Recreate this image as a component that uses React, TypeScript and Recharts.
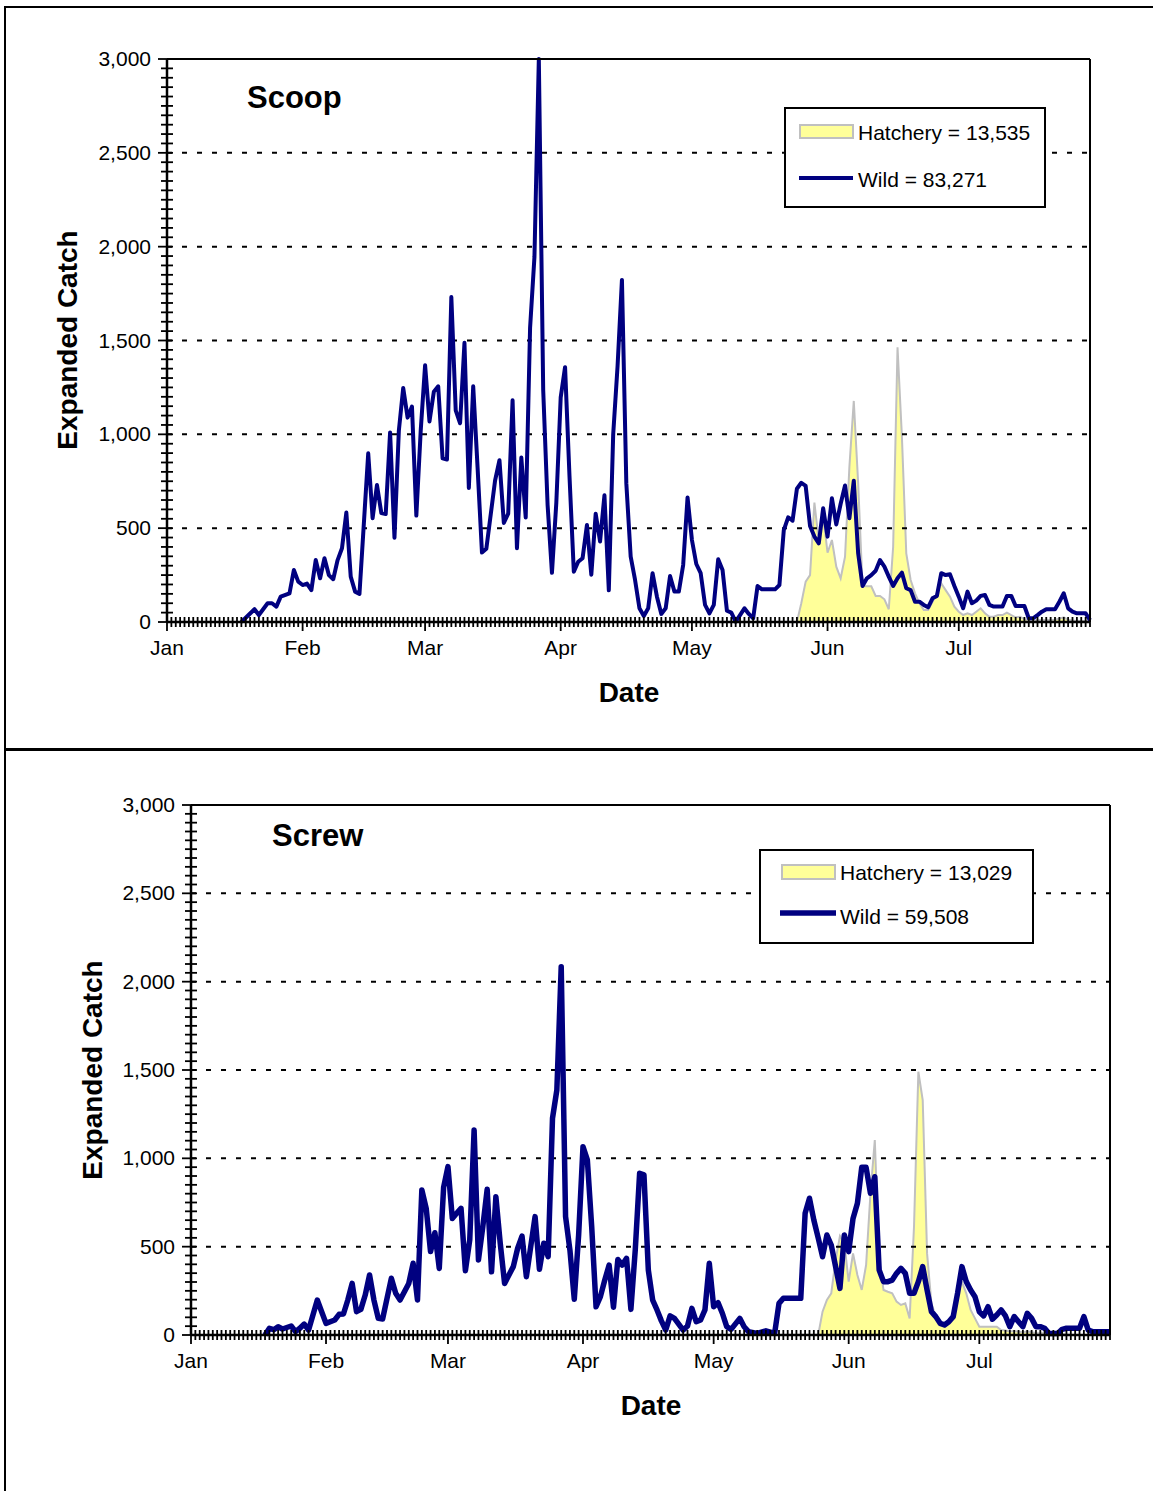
import React from "react";
import { ComposedChart, Line, Area, XAxis, YAxis, ReferenceLine } from "recharts";

const FONT = "'Liberation Sans', Arial, sans-serif";

// axis setup (day 0 = Jan 1)
const monthStarts = [0, 31, 59, 90, 120, 151, 181];
const monthLabels = ["Jan", "Feb", "Mar", "Apr", "May", "Jun", "Jul"];
const gridValues = [500, 1000, 1500, 2000, 2500];
const dayTicks = Array.from({ length: 212 }, (_, i) => i);
const yMinorTicks = Array.from({ length: 61 }, (_, i) => i * 50);

// Scoop trap, [day, expanded catch]
const scoopWild: [number, number][] = [
  [17, 0], [20, 68], [21, 37], [23, 100], [24, 100], [25, 82], [26, 135], [28, 153], [29, 277], [30, 215],
  [31, 197], [32, 205], [33, 170], [34, 330], [35, 233], [36, 340], [37, 250], [38, 228], [39, 330], [40, 393],
  [41, 583], [42, 242], [43, 162], [44, 150], [46, 899], [47, 553], [48, 730], [49, 580], [50, 575], [51, 1010],
  [52, 449], [53, 1020], [54, 1247], [55, 1089], [56, 1148], [57, 567], [58, 1020], [59, 1368], [60, 1069], [61, 1227],
  [62, 1256], [63, 872], [64, 866], [65, 1732], [66, 1128], [67, 1059], [68, 1488], [69, 714], [70, 1256], [71, 823],
  [72, 370], [73, 390], [75, 754], [76, 862], [77, 528], [78, 577], [79, 1181], [80, 393], [81, 876], [82, 557],
  [83, 1567], [84, 1945], [85, 3000], [86, 1236], [87, 626], [88, 262], [89, 636], [90, 1197], [91, 1358], [92, 783],
  [93, 268], [94, 321], [95, 340], [96, 517], [97, 252], [98, 577], [99, 429], [100, 675], [101, 169], [102, 1000],
  [103, 1364], [104, 1823], [105, 740], [106, 348], [107, 224], [108, 73], [109, 32], [110, 73], [111, 260], [112, 135],
  [113, 43], [114, 73], [115, 245], [116, 162], [117, 162], [118, 304], [119, 664], [120, 437], [121, 309], [122, 260],
  [123, 91], [124, 46], [125, 91], [126, 334], [127, 277], [128, 60], [129, 50], [130, 2], [131, 37], [132, 73],
  [133, 43], [134, 20], [135, 192], [136, 174], [137, 174], [138, 174], [139, 174], [140, 197], [141, 490], [142, 558],
  [143, 540], [144, 710], [145, 742], [146, 725], [147, 512], [148, 455], [149, 419], [150, 606], [151, 455], [152, 659],
  [153, 520], [154, 630], [155, 727], [156, 553], [157, 753], [158, 366], [159, 192], [160, 233], [161, 250], [162, 273],
  [163, 330], [164, 295], [165, 242], [166, 192], [167, 233], [168, 263], [169, 180], [170, 170], [171, 108], [172, 108],
  [173, 91], [174, 78], [175, 126], [176, 139], [177, 260], [178, 250], [179, 254], [180, 192], [181, 135], [182, 73],
  [183, 162], [184, 100], [185, 114], [186, 139], [187, 144], [188, 91], [189, 82], [190, 82], [191, 82], [192, 139],
  [193, 139], [194, 85], [195, 85], [196, 85], [197, 20], [198, 20], [199, 37], [200, 55], [201, 68], [202, 68],
  [203, 68], [204, 108], [205, 153], [206, 73], [207, 55], [208, 46], [209, 46], [210, 46], [211, 10],
];

const scoopHatchery: [number, number][] = [
  [144, 0], [145, 100], [146, 215], [147, 250], [148, 636], [149, 430], [150, 570], [151, 369], [152, 437], [153, 295],
  [154, 233], [155, 348], [156, 828], [157, 1178], [158, 739], [159, 192], [160, 190], [161, 190], [162, 139], [163, 139],
  [164, 121], [165, 68], [166, 401], [167, 1464], [168, 988], [169, 366], [170, 224], [171, 153], [172, 100], [173, 64],
  [174, 64], [175, 108], [176, 153], [177, 206], [178, 170], [179, 135], [180, 82], [181, 55], [182, 37], [183, 46],
  [184, 37], [185, 55], [186, 73], [187, 46], [188, 28], [189, 28], [190, 37], [191, 37], [192, 50], [193, 37],
  [194, 25], [195, 28], [196, 15], [197, 10], [198, 8], [199, 10], [200, 12], [201, 10], [202, 10], [203, 12],
  [204, 18], [205, 25], [206, 12], [207, 8], [208, 6], [209, 5], [210, 5], [211, 3],
];

// Screw trap
const screwWild: [number, number][] = [
  [17, 0], [18, 38], [19, 30], [20, 47], [21, 34], [23, 51], [24, 19], [25, 38], [26, 62], [27, 28],
  [29, 198], [30, 132], [31, 66], [33, 85], [34, 117], [35, 119], [36, 198], [37, 292], [38, 132], [39, 145],
  [40, 226], [41, 340], [42, 198], [43, 94], [44, 91], [46, 321], [47, 236], [48, 198], [50, 292], [51, 406],
  [52, 198], [53, 821], [54, 717], [55, 472], [56, 579], [57, 377], [58, 836], [59, 953], [60, 660], [61, 689],
  [62, 717], [63, 364], [64, 538], [65, 1160], [66, 425], [67, 613], [68, 825], [69, 358], [70, 783], [71, 519],
  [72, 292], [73, 340], [74, 387], [75, 491], [76, 560], [77, 330], [78, 500], [79, 670], [80, 372], [81, 519],
  [82, 443], [83, 1227], [84, 1387], [85, 2085], [86, 670], [87, 481], [88, 202], [89, 566], [90, 1066], [91, 991],
  [92, 613], [93, 160], [94, 217], [95, 311], [96, 396], [97, 157], [98, 428], [99, 396], [100, 434], [101, 145],
  [102, 481], [103, 915], [104, 906], [105, 368], [106, 198], [107, 142], [108, 80], [109, 28], [110, 108], [111, 94],
  [113, 28], [114, 51], [115, 151], [116, 75], [117, 85], [118, 142], [119, 406], [120, 160], [121, 183], [122, 123],
  [123, 47], [124, 32], [126, 94], [127, 47], [128, 19], [130, 9], [132, 24], [134, 9], [135, 179], [136, 208],
  [137, 208], [138, 208], [139, 208], [140, 208], [141, 689], [142, 774], [143, 651], [144, 550], [145, 443], [146, 566],
  [147, 509], [148, 387], [149, 264], [150, 566], [151, 472], [152, 660], [153, 745], [154, 949], [155, 949], [156, 802],
  [157, 896], [158, 368], [159, 302], [160, 302], [161, 311], [162, 349], [163, 377], [164, 349], [165, 236], [166, 236],
  [167, 302], [168, 387], [169, 255], [170, 132], [171, 104], [172, 66], [173, 57], [174, 75], [175, 104], [176, 236],
  [177, 387], [178, 302], [179, 255], [180, 217], [181, 132], [182, 108], [183, 160], [184, 89], [185, 113], [186, 142],
  [187, 108], [188, 47], [189, 104], [190, 75], [191, 47], [192, 123], [193, 94], [194, 47], [195, 47], [196, 38],
  [197, 9], [198, 9], [199, 9], [200, 32], [201, 38], [202, 38], [203, 38], [204, 38], [205, 104], [206, 28],
  [207, 19], [208, 19], [209, 19], [210, 19], [211, 19],
];

const screwHatchery: [number, number][] = [
  [144, 0], [145, 132], [146, 198], [147, 236], [148, 425], [149, 560], [150, 520], [151, 302], [152, 462], [153, 340],
  [154, 255], [155, 396], [156, 800], [157, 1104], [158, 425], [159, 255], [160, 245], [161, 236], [162, 189], [163, 170],
  [164, 179], [165, 94], [166, 613], [167, 1490], [168, 1330], [169, 462], [170, 179], [171, 104], [172, 66], [173, 47],
  [174, 66], [175, 104], [176, 236], [177, 302], [178, 236], [179, 142], [180, 94], [181, 47], [182, 47], [183, 47],
  [184, 47], [185, 47], [186, 28], [187, 25], [188, 20], [189, 22], [190, 18], [191, 15], [192, 20], [193, 15],
  [194, 12], [195, 10], [196, 10], [197, 8], [198, 6], [199, 5], [200, 5], [201, 3], [202, 0],
];

function buildRows(wild: [number, number][], hatchery: [number, number][]) {
  const rows = new Map<number, any>();
  wild.forEach(([d, v]) => rows.set(d, { day: d, wild: v }));
  hatchery.forEach(([d, v]) => {
    const r = rows.get(d) || { day: d };
    r.hatchery = v;
    rows.set(d, r);
  });
  return [...rows.values()].sort((a, b) => a.day - b.day);
}

const XTick = (props: any) => {
  const { x, y, payload } = props;
  const idx = monthStarts.indexOf(payload.value);
  return (
    <g>
      <line x1={x} x2={x} y1={y - 5} y2={y + (idx >= 0 ? 9 : 5)} stroke="#000" strokeWidth={1.8} />
      {idx >= 0 && (
        <text x={x} y={y + 33} textAnchor="middle" fontSize={21} fontFamily={FONT} fill="#000">
          {monthLabels[idx]}
        </text>
      )}
    </g>
  );
};

const YTick = (props: any) => {
  const { x, y, payload } = props;
  const v = payload.value;
  const major = v % 500 === 0;
  return (
    <g>
      <line x1={x - (major ? 9 : 6)} x2={x + 6} y1={y} y2={y} stroke="#000" strokeWidth={1.8} />
      {major && (
        <text x={x - 16} y={y + 7} textAnchor="end" fontSize={21} fontFamily={FONT} fill="#000">
          {v.toLocaleString("en-US")}
        </text>
      )}
    </g>
  );
};

type PanelProps = {
  rows: any[];
  top: number;
  height: number;
  margin: { top: number; right: number; bottom: number; left: number };
  lineWidth: number;
};

function Panel({ rows, top, height, margin, lineWidth }: PanelProps) {
  return (
    <div style={{ position: "absolute", left: 0, top }}>
      <ComposedChart width={1153} height={height} data={rows} margin={margin}>
        <XAxis
          type="number"
          dataKey="day"
          domain={[0, 211]}
          ticks={dayTicks}
          interval={0}
          tick={<XTick />}
          tickLine={false}
          tickSize={0}
          tickMargin={0}
          height={30}
          axisLine={{ stroke: "#000", strokeWidth: 2.5 }}
        />
        <YAxis
          type="number"
          domain={[0, 3000]}
          ticks={yMinorTicks}
          interval={0}
          tick={<YTick />}
          tickLine={false}
          tickSize={0}
          tickMargin={0}
          width={60}
          axisLine={{ stroke: "#000", strokeWidth: 2.5 }}
        />
        {gridValues.map((g) => (
          <ReferenceLine key={g} y={g} stroke="#000" strokeWidth={2} strokeDasharray="5 10" />
        ))}
        <Area
          type="linear"
          dataKey="hatchery"
          fill="#FFFF99"
          fillOpacity={1}
          stroke="#C0C0C0"
          strokeWidth={2}
          connectNulls
          dot={false}
          activeDot={false}
          isAnimationActive={false}
        />
        <Line
          type="linear"
          dataKey="wild"
          stroke="#000080"
          strokeWidth={lineWidth}
          strokeLinejoin="round"
          connectNulls
          dot={false}
          activeDot={false}
          isAnimationActive={false}
        />
        <ReferenceLine y={3000} stroke="#000" strokeWidth={2} />
        <ReferenceLine x={211} stroke="#000" strokeWidth={2} />
      </ComposedChart>
    </div>
  );
}

export default function App() {
  const scoopRows = buildRows(scoopWild, scoopHatchery);
  const screwRows = buildRows(screwWild, screwHatchery);

  return (
    <div style={{ position: "absolute", left: 0, top: 0, width: 1153, height: 1491, background: "#fff" }}>
      <Panel rows={scoopRows} top={0} height={748} margin={{ top: 59, right: 63, bottom: 96, left: 107 }} lineWidth={4} />
      <Panel rows={screwRows} top={750} height={741} margin={{ top: 55, right: 43, bottom: 126, left: 131 }} lineWidth={5.5} />

      <svg width={1153} height={1491} style={{ position: "absolute", left: 0, top: 0, pointerEvents: "none" }}>
        {/* frame */}
        <line x1={5} x2={5} y1={6} y2={1491} stroke="#000" strokeWidth={2} />
        <line x1={4} x2={1153} y1={7} y2={7} stroke="#000" strokeWidth={2} />
        <line x1={4} x2={1153} y1={749.5} y2={749.5} stroke="#000" strokeWidth={3} />

        <g fontFamily={FONT} fill="#000">
          {/* Scoop */}
          <text x={247} y={108} fontSize={31} fontWeight="bold">Scoop</text>
          <text transform="translate(77,340) rotate(-90)" textAnchor="middle" fontSize={28} fontWeight="bold">Expanded Catch</text>
          <text x={629} y={702} textAnchor="middle" fontSize={28} fontWeight="bold">Date</text>
          <rect x={785} y={108} width={260} height={99} fill="#fff" stroke="#000" strokeWidth={2} />
          <rect x={800} y={125} width={53} height={13} fill="#FFFF99" stroke="#C0C0C0" strokeWidth={2} />
          <text x={858} y={140} fontSize={21}>Hatchery = 13,535</text>
          <line x1={799} x2={853} y1={178} y2={178} stroke="#000080" strokeWidth={4} />
          <text x={858} y={187} fontSize={21}>Wild = 83,271</text>

          {/* Screw */}
          <text x={272} y={846} fontSize={31} fontWeight="bold">Screw</text>
          <text transform="translate(102,1070) rotate(-90)" textAnchor="middle" fontSize={28} fontWeight="bold">Expanded Catch</text>
          <text x={651} y={1415} textAnchor="middle" fontSize={28} fontWeight="bold">Date</text>
          <rect x={760} y={850} width={273} height={93} fill="#fff" stroke="#000" strokeWidth={2} />
          <rect x={782} y={865} width={53} height={14} fill="#FFFF99" stroke="#C0C0C0" strokeWidth={2} />
          <text x={840} y={880} fontSize={21}>Hatchery = 13,029</text>
          <line x1={780} x2={836} y1={913} y2={913} stroke="#000080" strokeWidth={5.5} />
          <text x={840} y={924} fontSize={21}>Wild = 59,508</text>
        </g>
      </svg>
    </div>
  );
}
